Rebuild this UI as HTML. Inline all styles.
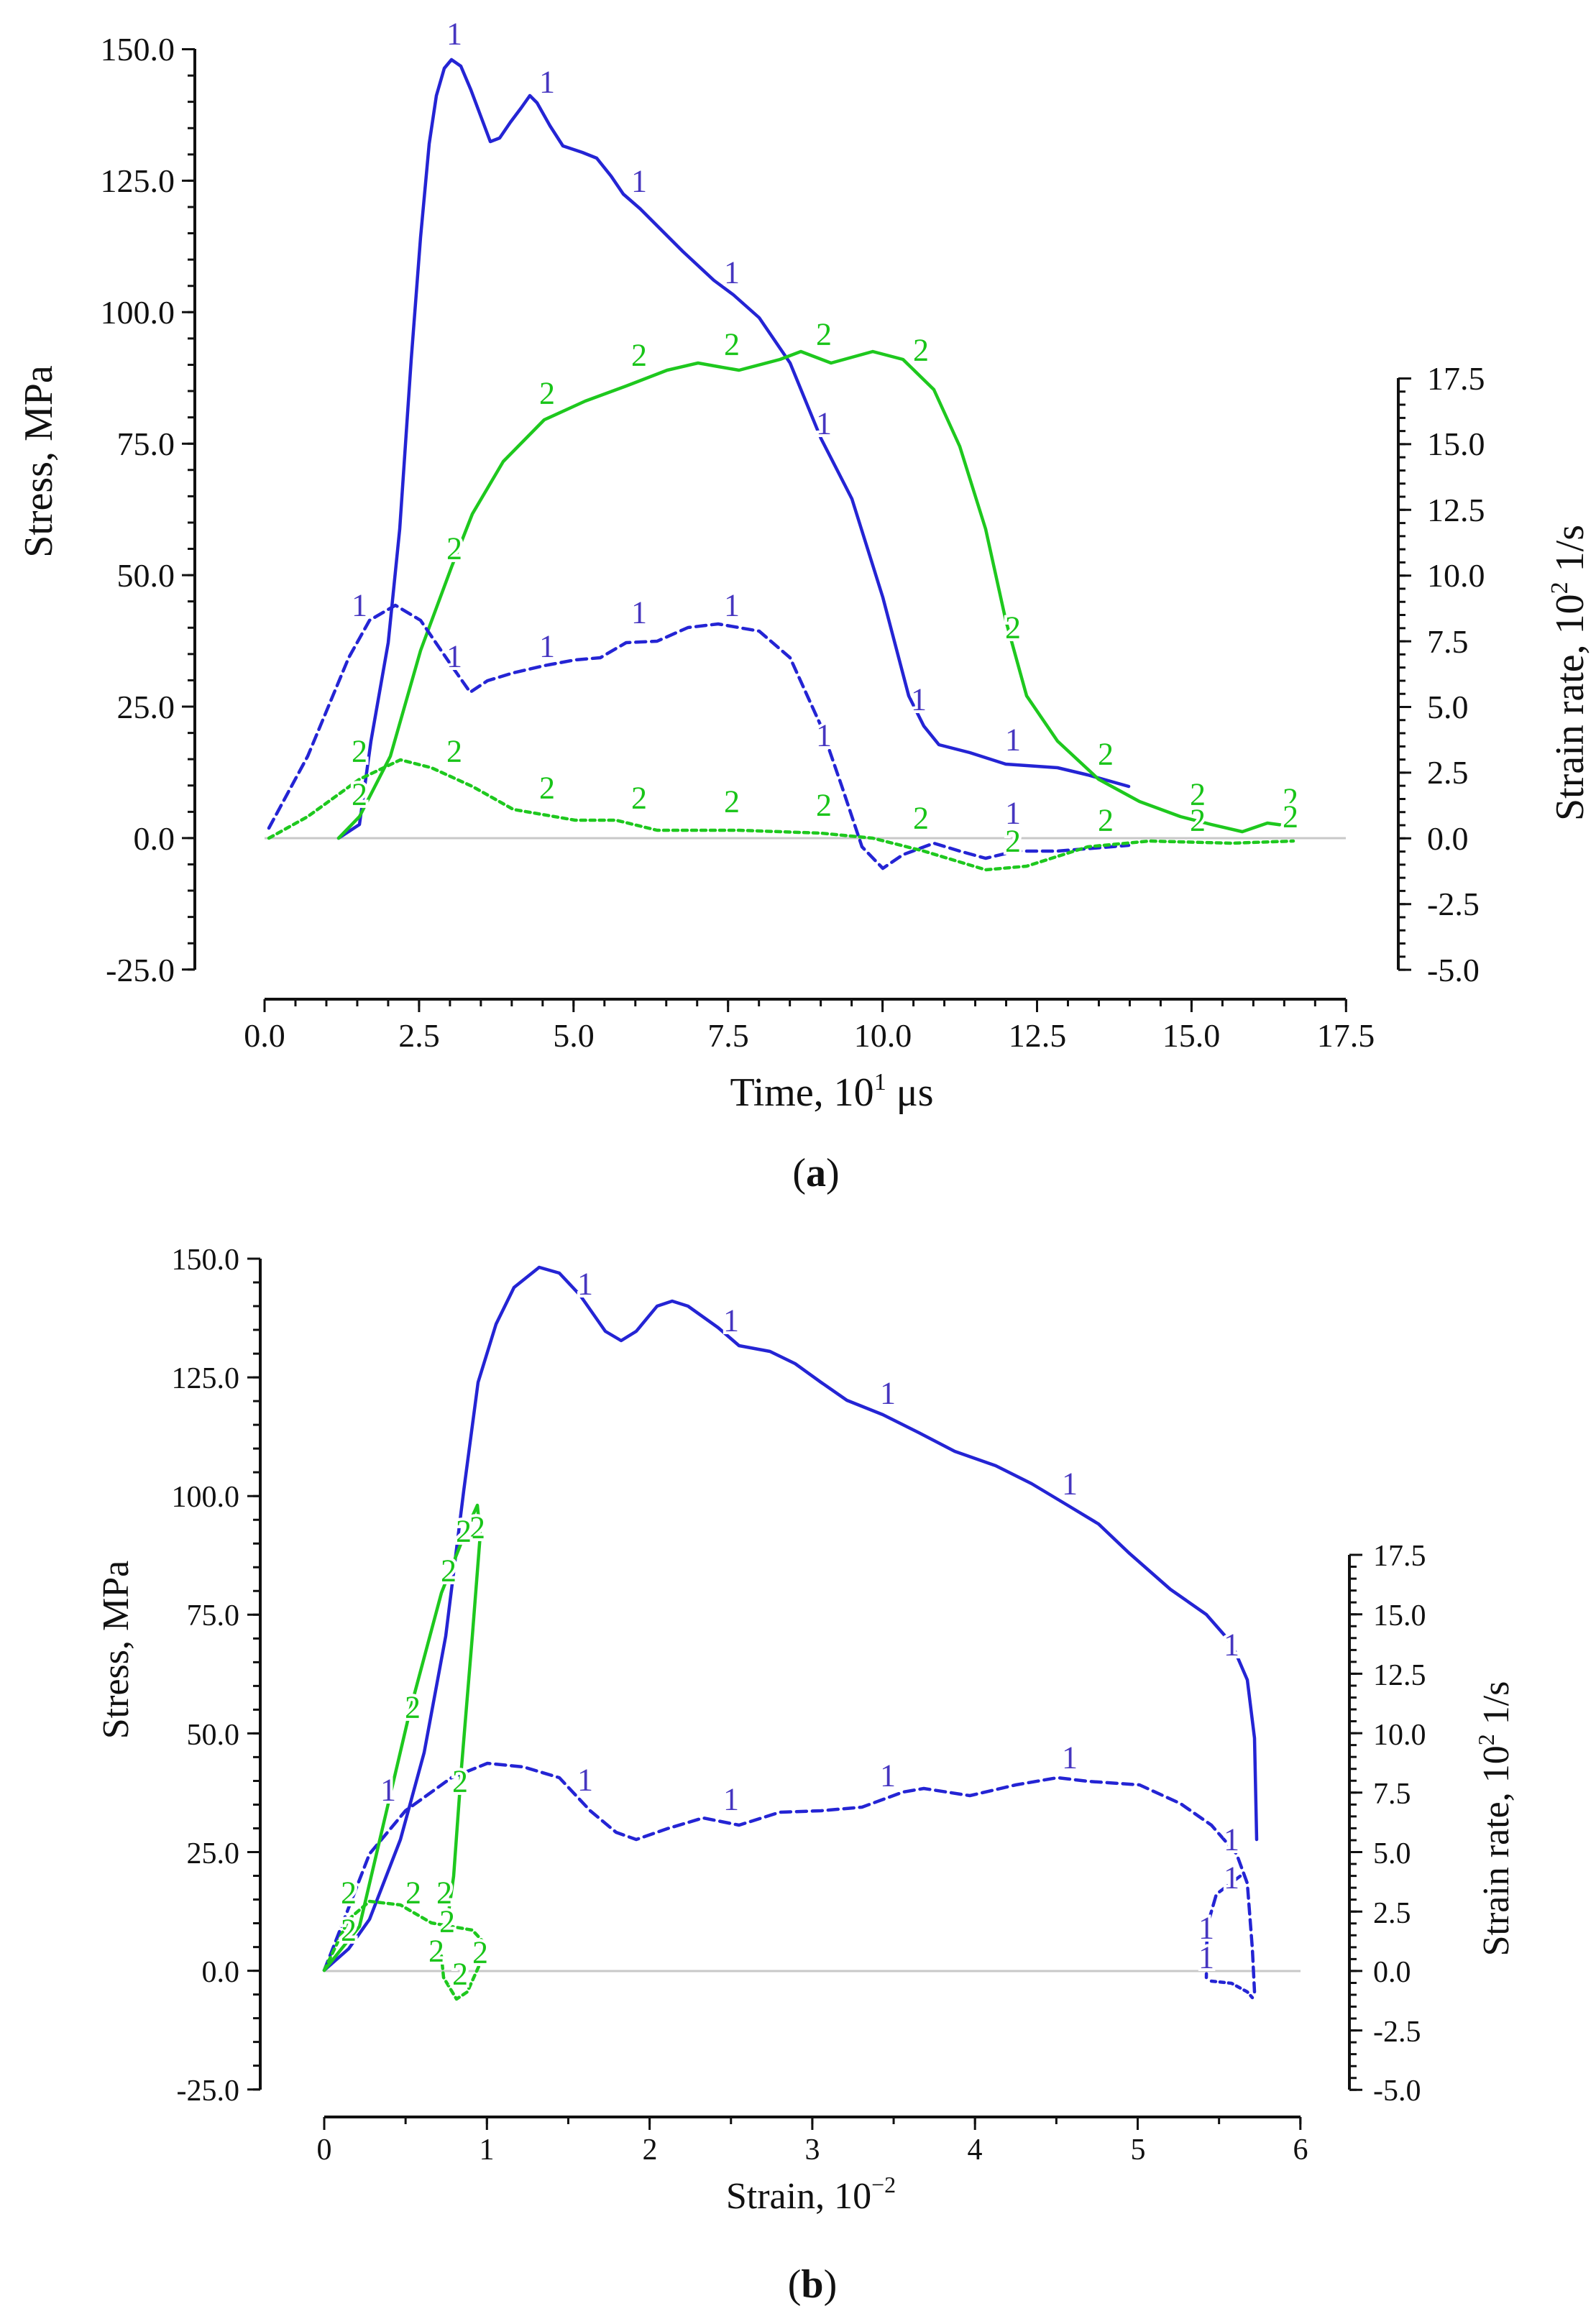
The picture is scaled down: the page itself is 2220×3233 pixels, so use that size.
<!DOCTYPE html>
<html><head><meta charset="utf-8"><style>
html,body{margin:0;padding:0;background:#fff}
svg{display:block}
text{font-family:"Liberation Serif",serif;fill:#111}
.tk{font-size:46px}
.tkb{font-size:42px}
.ttl{font-size:56px}
.l1{fill:#4636c0;font-size:44px;stroke:#fff;stroke-width:8px;paint-order:stroke;text-anchor:middle;dominant-baseline:central}
.l2{fill:#18c418;font-size:44px;stroke:#fff;stroke-width:8px;paint-order:stroke;text-anchor:middle;dominant-baseline:central}
.b{fill:none;stroke:#2424d4;stroke-width:4.5;stroke-linejoin:round;stroke-linecap:round}
.g{fill:none;stroke:#1ec81e;stroke-width:4.5;stroke-linejoin:round;stroke-linecap:round}
.ax{stroke:#111;fill:none}
</style></head><body>
<svg width="2220" height="3233" viewBox="0 0 2220 3233" xmlns="http://www.w3.org/2000/svg">
<rect width="2220" height="3233" fill="#fff"/>

<!-- ===== Chart (a) ===== -->
<line x1="368" y1="1166" x2="1872" y2="1166" stroke="#c8c8c8" stroke-width="3"/>
<line class="ax" x1="271" y1="68" x2="271" y2="1349" stroke-width="4"/>
<line class="ax" x1="266" y1="67" x2="266" y2="1351" stroke-width="10" stroke-dasharray="3 33.58"/>
<line class="ax" x1="262" y1="67" x2="262" y2="1351" stroke-width="18" stroke-dasharray="3 179.9"/>
<line class="ax" x1="1945" y1="526" x2="1945" y2="1349" stroke-width="4"/>
<line class="ax" x1="1950" y1="525" x2="1950" y2="1351" stroke-width="10" stroke-dasharray="3 15.28"/>
<line class="ax" x1="1954" y1="525" x2="1954" y2="1351" stroke-width="18" stroke-dasharray="3 88.4"/>
<line class="ax" x1="368" y1="1390" x2="1872" y2="1390" stroke-width="4"/>
<line class="ax" x1="366.5" y1="1395" x2="1874" y2="1395" stroke-width="10" stroke-dasharray="3 39.98"/>
<line class="ax" x1="366.5" y1="1399" x2="1874" y2="1399" stroke-width="18" stroke-dasharray="3 211.9"/>

<g class="tk" text-anchor="end">
<text x="243" y="84">150.0</text><text x="243" y="267">125.0</text><text x="243" y="450">100.0</text>
<text x="243" y="633">75.0</text><text x="243" y="816">50.0</text><text x="243" y="999">25.0</text>
<text x="243" y="1182">0.0</text><text x="243" y="1365">-25.0</text>
</g>
<g class="tk">
<text x="1985" y="542">17.5</text><text x="1985" y="633">15.0</text><text x="1985" y="725">12.5</text>
<text x="1985" y="816">10.0</text><text x="1985" y="908">7.5</text><text x="1985" y="999">5.0</text>
<text x="1985" y="1090">2.5</text><text x="1985" y="1182">0.0</text><text x="1985" y="1273">-2.5</text>
<text x="1985" y="1365">-5.0</text>
</g>
<g class="tk" text-anchor="middle">
<text x="368" y="1456">0.0</text><text x="583" y="1456">2.5</text><text x="798" y="1456">5.0</text>
<text x="1013" y="1456">7.5</text><text x="1228" y="1456">10.0</text><text x="1443" y="1456">12.5</text>
<text x="1657" y="1456">15.0</text><text x="1872" y="1456">17.5</text>
</g>
<text class="ttl" text-anchor="middle" transform="translate(72,642) rotate(-90)">Stress, MPa</text>
<text class="ttl" text-anchor="middle" x="1157" y="1538">Time, 10<tspan font-size="34" dy="-22">1</tspan><tspan dy="22"> μs</tspan></text>
<text class="ttl" text-anchor="middle" transform="translate(2202,936) rotate(-90)">Strain rate, 10<tspan font-size="34" dy="-22">2</tspan><tspan dy="22"> 1/s</tspan></text>
<text class="ttl" text-anchor="middle" x="1135" y="1650">(<tspan font-weight="bold">a</tspan>)</text>

<polyline class="b" points="471,1166 500,1147 516,1031 540,894 556,736 572,500 585,330 597,200 607,133 618,95 628,83 641,92 655,125 670,165 682,197 695,192 710,170 725,150 737,133 747,143 765,175 783,203 810,212 830,220 850,245 867,270 890,290 917,317 950,350 993,390 1020,410 1056,442 1099,505 1142,610 1185,694 1228,831 1264,968 1285,1010 1306,1036 1349,1047 1399,1063 1471,1068 1513,1078 1570,1094"/>
<polyline class="g" points="471,1166 500,1136 543,1052 585,905 628,789 657,715 700,642 757,584 814,558 871,537 928,515 971,505 999,510 1028,515 1085,500 1114,489 1156,505 1214,489 1256,500 1299,542 1335,621 1371,736 1399,863 1428,968 1471,1031 1528,1084 1585,1115 1642,1136 1685,1147 1728,1157 1763,1145 1792,1149"/>
<polyline class="b" stroke-dasharray="14 8" points="374,1152 428,1052 485,915 514,863 550,842 585,863 628,926 654,963 678,947 714,936 757,926 800,918 835,915 871,894 914,892 957,873 999,868 1056,878 1099,915 1142,1010 1171,1094 1199,1178 1228,1208 1256,1189 1299,1173 1335,1184 1371,1194 1413,1184 1471,1184 1570,1176"/>
<polyline class="g" stroke-dasharray="7 6" points="374,1166 428,1136 500,1084 557,1057 600,1068 657,1094 714,1126 800,1141 857,1141 914,1155 1028,1155 1142,1159 1214,1166 1285,1184 1371,1210 1428,1205 1513,1178 1599,1170 1713,1173 1799,1170"/>

<g>
<text class="l1" x="632" y="47">1</text><text class="l1" x="761" y="114">1</text><text class="l1" x="889" y="252">1</text>
<text class="l1" x="1018" y="379">1</text><text class="l1" x="1146" y="589">1</text><text class="l1" x="1278" y="973">1</text>
<text class="l1" x="1409" y="1029">1</text><text class="l1" x="500" y="842">1</text><text class="l1" x="632" y="913">1</text>
<text class="l1" x="761" y="899">1</text><text class="l1" x="889" y="852">1</text><text class="l1" x="1018" y="842">1</text>
<text class="l1" x="1146" y="1023">1</text><text class="l1" x="1409" y="1131">1</text>
<text class="l2" x="761" y="547">2</text><text class="l2" x="889" y="494">2</text><text class="l2" x="1018" y="479">2</text>
<text class="l2" x="1146" y="465">2</text><text class="l2" x="1281" y="487">2</text><text class="l2" x="632" y="763">2</text>
<text class="l2" x="1409" y="873">2</text><text class="l2" x="1538" y="1049">2</text><text class="l2" x="1666" y="1105">2</text>
<text class="l2" x="1795" y="1112">2</text><text class="l2" x="500" y="1045">2</text><text class="l2" x="632" y="1045">2</text>
<text class="l2" x="500" y="1105">2</text><text class="l2" x="761" y="1096">2</text><text class="l2" x="889" y="1110">2</text>
<text class="l2" x="1018" y="1115">2</text><text class="l2" x="1146" y="1120">2</text><text class="l2" x="1281" y="1138">2</text>
<text class="l2" x="1409" y="1170">2</text><text class="l2" x="1538" y="1141">2</text><text class="l2" x="1666" y="1141">2</text>
<text class="l2" x="1795" y="1136">2</text>
</g>

<!-- ===== Chart (b) ===== -->
<line x1="451" y1="2742" x2="1809" y2="2742" stroke="#c8c8c8" stroke-width="3"/>
<line class="ax" x1="362" y1="1751" x2="362" y2="2907" stroke-width="4"/>
<line class="ax" x1="357" y1="1749.5" x2="357" y2="2909" stroke-width="10" stroke-dasharray="3 30.02"/>
<line class="ax" x1="353" y1="1749.5" x2="353" y2="2909" stroke-width="18" stroke-dasharray="3 162.1"/>
<line class="ax" x1="1877" y1="2163" x2="1877" y2="2907" stroke-width="4"/>
<line class="ax" x1="1882" y1="2161.5" x2="1882" y2="2909" stroke-width="10" stroke-dasharray="3 13.54"/>
<line class="ax" x1="1886" y1="2161.5" x2="1886" y2="2909" stroke-width="18" stroke-dasharray="3 79.7"/>
<line class="ax" x1="451" y1="2945" x2="1809" y2="2945" stroke-width="4"/>
<line class="ax" x1="449.5" y1="2950" x2="1811" y2="2950" stroke-width="10" stroke-dasharray="3 110.15"/>
<line class="ax" x1="449.5" y1="2954" x2="1811" y2="2954" stroke-width="18" stroke-dasharray="3 223.3"/>

<g class="tkb" text-anchor="end">
<text x="333" y="1766">150.0</text><text x="333" y="1931">125.0</text><text x="333" y="2096">100.0</text>
<text x="333" y="2261">75.0</text><text x="333" y="2427">50.0</text><text x="333" y="2592">25.0</text>
<text x="333" y="2757">0.0</text><text x="333" y="2922">-25.0</text>
</g>
<g class="tkb">
<text x="1910" y="2178">17.5</text><text x="1910" y="2261">15.0</text><text x="1910" y="2344">12.5</text>
<text x="1910" y="2427">10.0</text><text x="1910" y="2509">7.5</text><text x="1910" y="2592">5.0</text>
<text x="1910" y="2675">2.5</text><text x="1910" y="2757">0.0</text><text x="1910" y="2840">-2.5</text>
<text x="1910" y="2922">-5.0</text>
</g>
<g class="tkb" text-anchor="middle">
<text x="451" y="3004">0</text><text x="677" y="3004">1</text><text x="904" y="3004">2</text>
<text x="1130" y="3004">3</text><text x="1356" y="3004">4</text><text x="1583" y="3004">5</text>
<text x="1809" y="3004">6</text>
</g>
<text class="ttl" text-anchor="middle" transform="translate(178,2295) rotate(-90)" style="font-size:52px">Stress, MPa</text>
<text class="ttl" text-anchor="middle" x="1128" y="3072" style="font-size:52px">Strain, 10<tspan font-size="32" dy="-22">−2</tspan></text>
<text class="ttl" text-anchor="middle" transform="translate(2098,2530) rotate(-90)" style="font-size:52px">Strain rate, 10<tspan font-size="32" dy="-20">2</tspan><tspan dy="20"> 1/s</tspan></text>
<text class="ttl" text-anchor="middle" x="1130" y="3196">(<tspan font-weight="bold">b</tspan>)</text>

<polyline class="b" points="451,2741 485,2711 514,2670 557,2559 590,2438 620,2276 645,2074 665,1923 690,1842 715,1791 750,1763 778,1771 807,1802 842,1852 864,1865 885,1852 914,1817 935,1810 957,1817 999,1847 1028,1872 1071,1880 1106,1897 1142,1923 1178,1948 1228,1968 1278,1993 1328,2019 1385,2039 1435,2064 1485,2094 1528,2120 1570,2160 1628,2211 1678,2246 1713,2286 1735,2337 1745,2418 1748,2559"/>
<polyline class="b" stroke-dasharray="14 8" points="451,2741 471,2690 514,2579 564,2519 628,2473 678,2453 728,2458 778,2473 821,2519 857,2549 885,2559 928,2544 978,2529 1028,2539 1085,2521 1142,2519 1199,2514 1256,2493 1285,2488 1349,2498 1413,2483 1471,2473 1513,2478 1585,2483 1642,2509 1685,2539 1720,2579 1735,2620 1742,2711 1745,2771"/>
<polyline class="b" stroke-dasharray="14 8" points="1725,2610 1692,2635 1679,2680 1678,2751"/>
<polyline class="b" stroke-dasharray="6 6" points="1685,2756 1713,2759 1735,2771 1742,2779"/>
<polyline class="g" points="451,2741 500,2680 571,2377 614,2216 650,2125 664,2094 668,2135 657,2276 642,2458 631,2610 624,2660"/>
<polyline class="g" stroke-dasharray="7 6" points="451,2741 485,2670 514,2645 557,2650 600,2675 628,2680 657,2685 671,2700 668,2731 650,2771 635,2781 617,2751 614,2721"/>

<g>
<text class="l1" x="814" y="1786">1</text><text class="l1" x="1017" y="1837">1</text><text class="l1" x="1235" y="1938">1</text>
<text class="l1" x="1488" y="2064">1</text><text class="l1" x="1713" y="2288">1</text><text class="l1" x="540" y="2490">1</text>
<text class="l1" x="814" y="2476">1</text><text class="l1" x="1017" y="2503">1</text><text class="l1" x="1235" y="2470">1</text>
<text class="l1" x="1488" y="2445">1</text><text class="l1" x="1713" y="2559">1</text><text class="l1" x="1713" y="2612">1</text>
<text class="l1" x="1678" y="2682">1</text><text class="l1" x="1678" y="2723">1</text>
<text class="l2" x="664" y="2125">2</text><text class="l2" x="645" y="2130">2</text><text class="l2" x="624" y="2185">2</text>
<text class="l2" x="574" y="2375">2</text><text class="l2" x="640" y="2478">2</text><text class="l2" x="485" y="2633">2</text>
<text class="l2" x="575" y="2633">2</text><text class="l2" x="618" y="2633">2</text><text class="l2" x="485" y="2685">2</text>
<text class="l2" x="622" y="2673">2</text><text class="l2" x="607" y="2714">2</text><text class="l2" x="668" y="2716">2</text>
<text class="l2" x="640" y="2746">2</text>
</g>
</svg>
</body></html>
